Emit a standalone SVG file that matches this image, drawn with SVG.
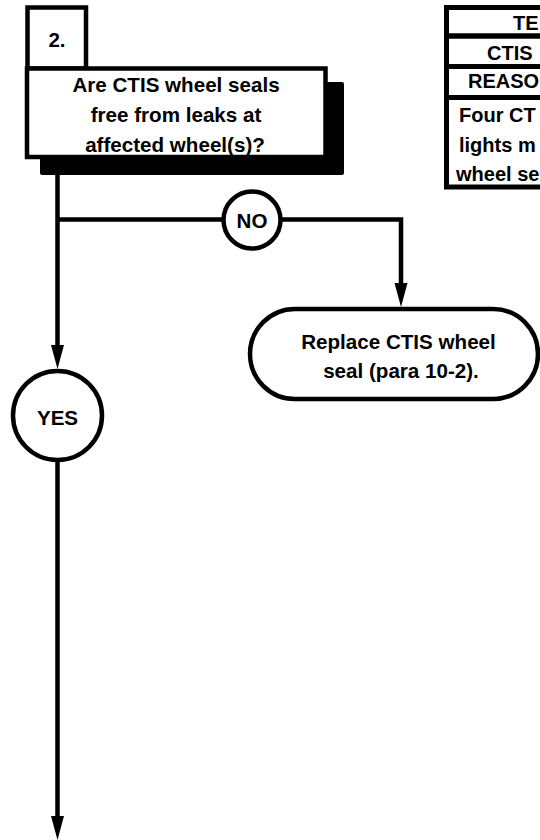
<svg xmlns="http://www.w3.org/2000/svg" width="540" height="840" viewBox="0 0 540 840">
<style>
  .t { font-family: "Liberation Sans", Arial, sans-serif; font-weight: bold; font-size: 20.6px; fill: #000; }
  .s { font-size: 20px; }
  .c { text-anchor: middle; }
  .box { fill: #fff; stroke: #000; stroke-width: 4.5; }
  .ln { fill: none; stroke: #000; stroke-width: 4.5; }
</style>
<defs>
  <marker id="arr" markerUnits="userSpaceOnUse" markerWidth="26" markerHeight="14" refX="14" refY="6.5" orient="auto">
    <path d="M0,0 L24,6.5 L0,13 z" fill="#000"/>
  </marker>
</defs>
<rect width="540" height="840" fill="#fff"/>

<g id="connectors">
  <path class="ln" d="M57.5 160 V359" marker-end="url(#arr)"/>
  <path class="ln" d="M57.5 219.5 H401 V297" marker-end="url(#arr)"/>
  <path class="ln" d="M57.5 460 V830" marker-end="url(#arr)"/>
</g>

<g id="node-step2">
  <rect x="40" y="82" width="304" height="93" rx="2" fill="#000"/>
  <rect class="box" x="27.5" y="7.5" width="58.5" height="61"/>
  <text class="t c" x="57" y="47">2.</text>
  <rect class="box" x="27" y="68.5" width="298.5" height="88.5"/>
  <text class="t c" x="176" y="92">Are CTIS wheel seals</text>
  <text class="t c" x="176" y="122">free from leaks at</text>
  <text class="t c" x="175" y="152">affected wheel(s)?</text>
</g>

<g id="node-table">
  <rect x="446.5" y="7.5" width="120" height="179.5" fill="#fff" stroke="#000" stroke-width="5"/>
  <line x1="446" y1="36" x2="545" y2="36" stroke="#000" stroke-width="5.5"/>
  <line x1="446" y1="66.5" x2="545" y2="66.5" stroke="#000" stroke-width="5"/>
  <line x1="446" y1="97.5" x2="545" y2="97.5" stroke="#000" stroke-width="5"/>
  <text class="t s" x="513" y="30">TE</text>
  <text class="t s" x="487" y="60">CTIS</text>
  <text class="t s" x="468" y="88">REASO</text>
  <text class="t s" x="459" y="122">Four CT</text>
  <text class="t s" x="459" y="152">lights m</text>
  <text class="t s" x="456" y="181">wheel se</text>
</g>

<g id="node-no">
  <circle class="box" cx="252" cy="220" r="28.5"/>
  <text class="t c" x="252" y="228">NO</text>
</g>

<g id="node-yes">
  <circle class="box" cx="57.5" cy="415.5" r="44.5"/>
  <text class="t c" x="57.5" y="425">YES</text>
</g>

<g id="node-replace">
  <rect class="box" x="250" y="309" width="288" height="90" rx="45"/>
  <text class="t c" x="398.5" y="349">Replace CTIS wheel</text>
  <text class="t c" x="401" y="378">seal (para 10-2).</text>
</g>
</svg>
